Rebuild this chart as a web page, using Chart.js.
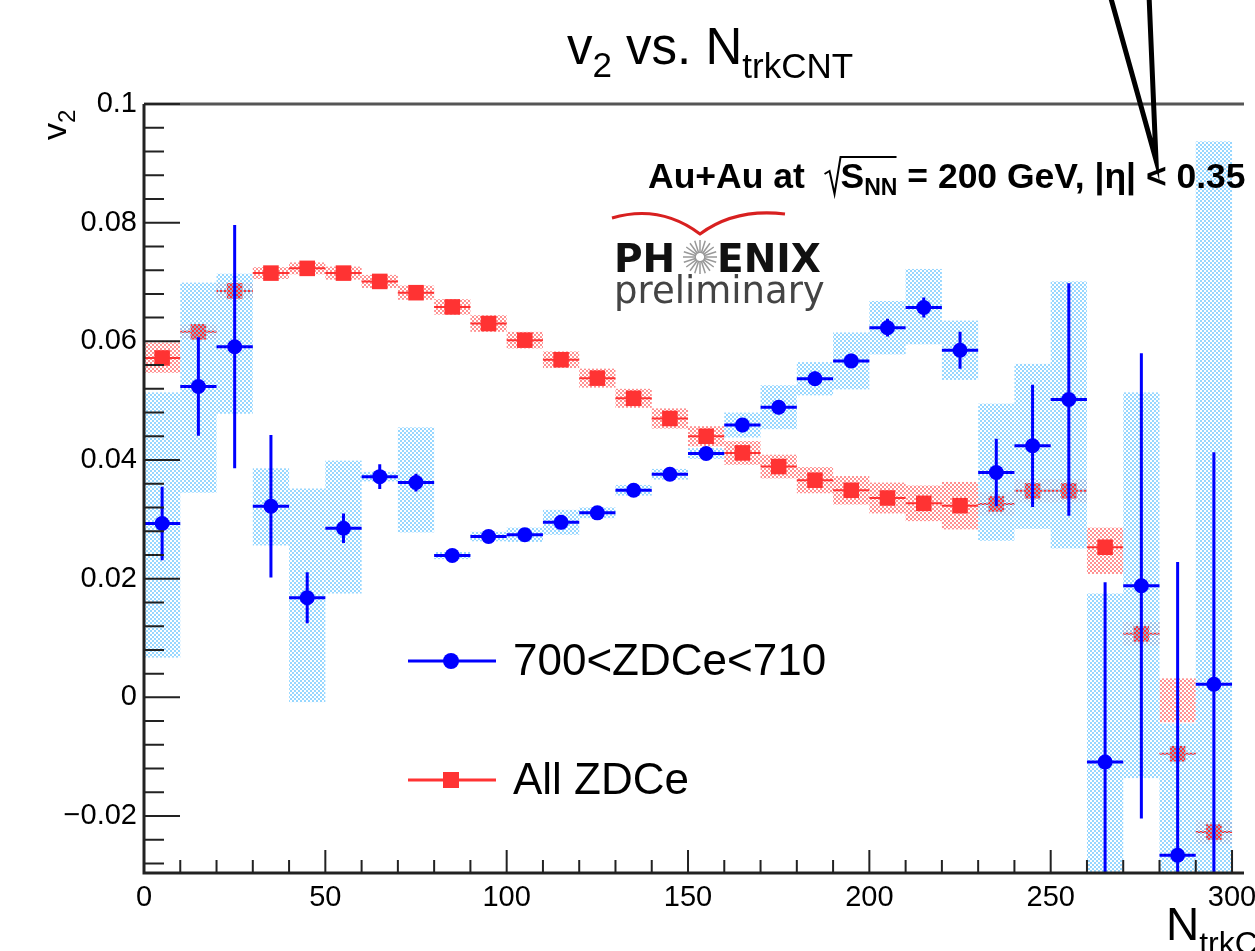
<!DOCTYPE html>
<html>
<head>
<meta charset="utf-8">
<script src="https://cdn.jsdelivr.net/npm/chart.js@4.4.0/dist/chart.umd.min.js"></script>
<style>
html, body { margin: 0; padding: 0; background: #fff; overflow: hidden; }
</style>
</head>
<body>
<canvas id="chart" width="1255" height="951"></canvas>
<script>
// bin centres (N_trkCNT) and half bin width
const bins = [5, 15, 25, 35, 45, 55, 65, 75, 85, 95, 105, 115, 125, 135, 145, 155, 165, 175, 185, 195, 205, 215, 225, 235, 245, 255, 265, 275, 285, 295];
const xErr = 5;

// 700<ZDCe<710
const blueV = [0.0293, 0.0524, 0.0591, 0.0322, 0.0168, 0.0285, 0.0372, 0.0362, 0.0239, 0.0271, 0.0274, 0.0295, 0.0311, 0.0349, 0.0376, 0.0411, 0.0459, 0.0489, 0.0537, 0.0567, 0.0623, 0.0657, 0.0585, 0.0379, 0.0424, 0.0502, -0.0109, 0.0188, -0.0266, 0.0022];
const blueStat = [0.0062, 0.0083, 0.0205, 0.012, 0.0043, 0.0025, 0.0021, 0.0015, 0.001, 0.001, 0.001, 0.001, 0.001, 0.001, 0.001, 0.001, 0.0012, 0.0012, 0.0012, 0.0012, 0.0015, 0.0017, 0.0031, 0.0057, 0.0103, 0.0196, 0.0303, 0.0392, 0.0494, 0.0391];
const blueSysLo = [0.0067, 0.0345, 0.0478, 0.0256, -0.0008, 0.0175, 0.0364, 0.0278, 0.0233, 0.0263, 0.0262, 0.0274, 0.0302, 0.034, 0.0367, 0.0402, 0.0438, 0.0452, 0.0509, 0.0519, 0.0578, 0.0595, 0.0535, 0.0264, 0.0284, 0.0251, -0.0393, -0.0136, -0.049, -0.09];
const blueSysHi = [0.0514, 0.0699, 0.0714, 0.0386, 0.0352, 0.0399, 0.038, 0.0455, 0.0245, 0.0279, 0.0286, 0.0316, 0.032, 0.0358, 0.0385, 0.042, 0.048, 0.0526, 0.0565, 0.0615, 0.0668, 0.0722, 0.0635, 0.0495, 0.0562, 0.0701, 0.0175, 0.0514, -0.0044, 0.0937];

// All ZDCe
const redV = [0.0572, 0.0616, 0.0685, 0.0715, 0.0723, 0.0715, 0.0701, 0.0682, 0.0658, 0.063, 0.0602, 0.0569, 0.0538, 0.0504, 0.047, 0.044, 0.0412, 0.0389, 0.0366, 0.0349, 0.0336, 0.0327, 0.0323, 0.0326, 0.0348, 0.0348, 0.0253, 0.0107, -0.0095, -0.0227];
const redStat = [0.0008, 0.0008, 0.0008, 0.0006, 0.0006, 0.0006, 0.0006, 0.0006, 0.0006, 0.0006, 0.0006, 0.0006, 0.0006, 0.0006, 0.0006, 0.0006, 0.0006, 0.0006, 0.0006, 0.0006, 0.0006, 0.0006, 0.0006, 0.0007, 0.0008, 0.0008, 0.0009, 0.0012, 0.0015, 0.004];
const redSysLo = [0.0547, 0.0604, 0.0672, 0.0705, 0.0713, 0.0704, 0.069, 0.067, 0.0645, 0.0616, 0.0588, 0.0555, 0.0522, 0.0488, 0.0453, 0.0423, 0.0392, 0.0369, 0.0344, 0.0325, 0.031, 0.0297, 0.0283, 0.0306, 0.0328, 0.0328, 0.0208, 0.0087, -0.0042, -0.0247];
const redSysHi = [0.0598, 0.0628, 0.0698, 0.0725, 0.0733, 0.0726, 0.0712, 0.0694, 0.0671, 0.0644, 0.0616, 0.0583, 0.0554, 0.052, 0.0487, 0.0457, 0.0432, 0.0409, 0.0388, 0.0373, 0.0362, 0.0357, 0.0363, 0.0346, 0.0368, 0.0368, 0.0286, 0.0127, 0.0032, -0.0207];

// axes
const xTicks = [0, 50, 100, 150, 200, 250, 300];
const yTicks = [-0.02, 0, 0.02, 0.04, 0.06, 0.08, 0.1];
const yTickLabels = ['\u22120.02', '0', '0.02', '0.04', '0.06', '0.08', '0.1'];
const xMin = 0, xMax = 303.3, yMin = -0.0296, yMax = 0.1;

const seriesNames = ['700<ZDCe<710', 'All ZDCe'];
const BLUE = '#0000ff', RED = '#ff3333';
const FONT = '"Liberation Sans", Arial, Helvetica, sans-serif';

function makePattern(ctx, color) {
    const c = document.createElement('canvas');
    c.width = 4; c.height = 4;
    const g = c.getContext('2d');
    g.fillStyle = color;
    g.fillRect(0, 0, 2, 2);
    g.fillRect(2, 2, 2, 2);
    return ctx.createPattern(c, 'repeat');
}

// draws a list of text pieces: {t, size, dy, bold}
function richText(ctx, parts, x, y, measureOnly) {
    let cx = x;
    for (const p of parts) {
        ctx.font = (p.bold ? 'bold ' : '') + p.size + 'px ' + FONT;
        if (!measureOnly) ctx.fillText(p.t, cx, y + (p.dy || 0));
        cx += ctx.measureText(p.t).width;
    }
    return cx - x;
}

const errorBars = {
    id: 'errorBars',
    beforeDatasetDraw(chart, args) {
        const ctx = chart.ctx, a = chart.chartArea;
        const xs = chart.scales.x, ys = chart.scales.y;
        const blue = args.index === 0;
        const vals = blue ? blueV : redV;
        const stat = blue ? blueStat : redStat;
        const lo = blue ? blueSysLo : redSysLo;
        const hi = blue ? blueSysHi : redSysHi;
        ctx.save();
        ctx.beginPath();
        ctx.rect(a.left, a.top, a.right - a.left, a.bottom - a.top);
        ctx.clip();
        // systematic boxes
        ctx.fillStyle = makePattern(ctx, blue ? 'rgba(125,205,255,0.8)' : 'rgba(255,85,85,0.65)');
        bins.forEach((b, i) => {
            const x1 = xs.getPixelForValue(b - xErr), x2 = xs.getPixelForValue(b + xErr);
            const y1 = ys.getPixelForValue(hi[i]), y2 = ys.getPixelForValue(lo[i]);
            ctx.fillRect(x1, y1, x2 - x1, y2 - y1);
        });
        // statistical errors and bin widths
        ctx.strokeStyle = blue ? BLUE : RED;
        ctx.lineWidth = blue ? 3 : 2;
        bins.forEach((b, i) => {
            const px = xs.getPixelForValue(b), py = ys.getPixelForValue(vals[i]);
            ctx.beginPath();
            ctx.moveTo(xs.getPixelForValue(b - xErr), py);
            ctx.lineTo(xs.getPixelForValue(b + xErr), py);
            ctx.moveTo(px, ys.getPixelForValue(vals[i] + stat[i]));
            ctx.lineTo(px, ys.getPixelForValue(vals[i] - stat[i]));
            ctx.stroke();
        });
        ctx.restore();
    },
    afterDraw(chart) {
        const ctx = chart.ctx, a = chart.chartArea;
        const xs = chart.scales.x, ys = chart.scales.y;
        ctx.save();
        // frame
        ctx.strokeStyle = '#555';
        ctx.lineWidth = 3;
        ctx.beginPath();
        ctx.moveTo(a.left, a.top); ctx.lineTo(a.right, a.top);
        ctx.stroke();
        ctx.strokeStyle = '#222';
        ctx.beginPath();
        ctx.moveTo(a.left, a.top); ctx.lineTo(a.left, a.bottom); ctx.lineTo(a.right, a.bottom);
        ctx.stroke();
        // ticks
        ctx.lineWidth = 2;
        ctx.strokeStyle = '#222';
        ctx.beginPath();
        for (let v = 0; v <= 300; v += 10) {
            const px = xs.getPixelForValue(v);
            ctx.moveTo(px, a.bottom);
            ctx.lineTo(px, a.bottom - (v % 50 === 0 ? 23 : 13));
        }
        for (let k = -7; k <= 25; k++) {
            const v = k * 0.004;
            const py = ys.getPixelForValue(v);
            ctx.moveTo(a.left, py);
            ctx.lineTo(a.left + (k % 5 === 0 ? 36 : 20), py);
        }
        ctx.stroke();
        // tick labels
        ctx.fillStyle = '#000';
        ctx.font = '29px ' + FONT;
        ctx.textAlign = 'right';
        ctx.textBaseline = 'middle';
        yTicks.forEach((v, i) => ctx.fillText(yTickLabels[i], 137, ys.getPixelForValue(v)));
        ctx.textAlign = 'center';
        ctx.textBaseline = 'alphabetic';
        xTicks.forEach(v => ctx.fillText(String(v), xs.getPixelForValue(v), 906));

        ctx.textAlign = 'left';
        // title
        const title = [{t: 'v', size: 51}, {t: '2', size: 35, dy: 13}, {t: ' vs. N', size: 51}, {t: 'trkCNT', size: 35, dy: 14}];
        const tw = richText(ctx, title, 0, 0, true);
        richText(ctx, title, 710 - tw / 2, 64);
        // axis titles
        richText(ctx, [{t: 'N', size: 46}, {t: 'trkCNT', size: 32, dy: 14}], 1166, 940);
        ctx.save();
        ctx.translate(66, 140);
        ctx.rotate(-Math.PI / 2);
        richText(ctx, [{t: 'v', size: 34}, {t: '2', size: 24, dy: 9}], 0, 0);
        ctx.restore();

        // collision system label
        let x = 648;
        const base = 188;
        x += richText(ctx, [{t: 'Au+Au at  ', size: 35.5, bold: true}], x, base);
        ctx.lineWidth = 2;
        ctx.strokeStyle = '#000';
        ctx.beginPath();
        ctx.moveTo(x, base - 14); ctx.lineTo(x + 5, base - 17);
        ctx.lineTo(x + 10, base + 6); ctx.lineTo(x + 16, base - 31);
        ctx.lineTo(x + 72, base - 31);
        ctx.stroke();
        x += 16;
        x += richText(ctx, [{t: 'S', size: 35.5, bold: true}, {t: 'NN', size: 23, dy: 7, bold: true}, {t: ' = 200 GeV, |\u03b7| < 0.35', size: 35.5, bold: true}], x, base);

        // PHENIX preliminary logo
        ctx.fillStyle = '#111';
        ctx.font = 'bold 39px "DejaVu Sans", sans-serif';
        ctx.fillText('PH', 614, 272);
        ctx.fillText('ENIX', 717, 272);
        ctx.strokeStyle = '#999';
        ctx.lineWidth = 1.5;
        ctx.beginPath();
        for (let k = 0; k < 20; k++) {
            const t = k * Math.PI / 10;
            ctx.moveTo(700 + 4 * Math.cos(t), 257 + 4 * Math.sin(t));
            ctx.lineTo(700 + 17 * Math.cos(t), 257 + 17 * Math.sin(t));
        }
        ctx.stroke();
        ctx.strokeStyle = '#d82020';
        ctx.lineWidth = 3;
        ctx.beginPath();
        ctx.moveTo(612, 218);
        ctx.quadraticCurveTo(660, 204, 700, 234);
        ctx.quadraticCurveTo(735, 208, 785, 214);
        ctx.stroke();
        ctx.fillStyle = '#444';
        ctx.font = '37px "DejaVu Sans", sans-serif';
        ctx.fillText('preliminary', 614, 303);

        // legend
        const legY = [661, 780];
        [BLUE, RED].forEach((c, i) => {
            ctx.strokeStyle = c;
            ctx.fillStyle = c;
            ctx.lineWidth = 3;
            ctx.beginPath();
            ctx.moveTo(408, legY[i]); ctx.lineTo(496, legY[i]);
            ctx.stroke();
            if (i === 0) {
                ctx.beginPath();
                ctx.arc(451, legY[i], 8, 0, Math.PI * 2);
                ctx.fill();
            } else {
                ctx.fillRect(443, legY[i] - 8, 16, 16);
            }
            ctx.fillStyle = '#000';
            ctx.font = '44px ' + FONT;
            ctx.textBaseline = 'middle';
            ctx.fillText(seriesNames[i], 513, legY[i] + 2);
            ctx.textBaseline = 'alphabetic';
        });

        // pointer lines at the top
        ctx.strokeStyle = '#000';
        ctx.lineWidth = 5;
        ctx.lineJoin = 'miter';
        ctx.beginPath();
        ctx.moveTo(1110, -5); ctx.lineTo(1156, 160); ctx.lineTo(1149, -5);
        ctx.stroke();
        ctx.restore();
    }
};

const chart = new Chart(document.getElementById('chart').getContext('2d'), {
    type: 'scatter',
    data: {
        datasets: [{
            label: seriesNames[0],
            data: bins.map((b, i) => ({x: b, y: blueV[i]})),
            pointStyle: 'circle',
            pointRadius: 7.5,
            backgroundColor: BLUE,
            borderWidth: 0
        }, {
            label: seriesNames[1],
            data: bins.map((b, i) => ({x: b, y: redV[i]})),
            pointStyle: 'rect',
            pointRadius: 11,
            backgroundColor: RED,
            borderWidth: 0
        }]
    },
    options: {
        responsive: false,
        animation: false,
        events: [],
        layout: { padding: { left: 144, top: 104, right: 0, bottom: 78 } },
        plugins: { legend: { display: false }, tooltip: { enabled: false } },
        scales: {
            x: { type: 'linear', min: xMin, max: xMax, display: false },
            y: { type: 'linear', min: yMin, max: yMax, display: false }
        }
    },
    plugins: [errorBars]
});
</script>
</body>
</html>
